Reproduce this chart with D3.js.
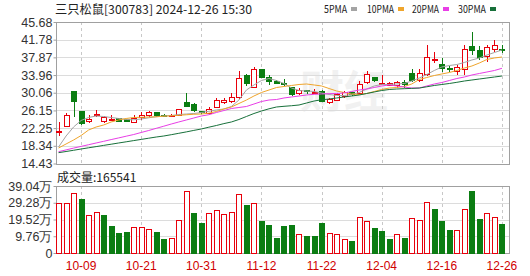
<!DOCTYPE html>
<html>
<head>
<meta charset="utf-8">
<script src="https://cdn.jsdelivr.net/npm/d3@7"></script>
<style>
  body { margin: 0; background: #fff; }
  svg { display: block; }
</style>
</head>
<body>
<svg id="chart" width="530" height="276"></svg>
<script>
// 日K数据 (价格 元, 成交量 万手)
const dates = ["09-27","09-30","10-08","10-09","10-10","10-11","10-14","10-15","10-16","10-17",
  "10-18","10-21","10-22","10-23","10-24","10-25","10-28","10-29","10-30","10-31",
  "11-01","11-04","11-05","11-06","11-07","11-08","11-11","11-12","11-13","11-14",
  "11-15","11-18","11-19","11-20","11-21","11-22","11-25","11-26","11-27","11-28",
  "11-29","12-02","12-03","12-04","12-05","12-06","12-09","12-10","12-11","12-12",
  "12-13","12-16","12-17","12-18","12-19","12-20","12-23","12-24","12-25","12-26"];

const openP = [21.2,22.7,30.3,25.9,23.7,25.1,23.7,24.1,24.3,24.1,
  23.5,24.5,25.0,25.6,25.1,25.0,25.1,27.9,27.5,25.9,
  25.4,26.8,28.0,28.1,28.9,33.9,31.3,35.1,33.5,32.5,
  32.0,31.2,29.9,30.5,30.1,30.3,27.9,28.4,29.3,30.0,
  29.9,32.3,33.5,32.1,31.6,31.6,32.4,34.4,32.7,34.0,
  37.4,36.2,35.5,34.7,35.1,40.2,39.3,38.0,39.7,39.6];
const highP = [23.7,25.5,30.3,26.0,25.1,26.2,25.0,25.1,24.5,24.2,
  25.1,25.7,26.0,25.6,25.4,25.4,26.4,30.0,27.7,26.0,
  27.0,28.8,28.8,29.9,34.9,34.3,35.8,35.4,34.0,32.8,
  33.2,31.4,31.0,30.7,30.9,30.6,29.0,29.9,30.4,30.2,
  32.7,34.9,33.5,34.0,32.5,32.6,32.8,35.2,35.2,40.5,
  39.0,37.8,36.0,36.2,40.6,43.4,40.4,40.5,41.7,40.6];
const lowP = [20.6,22.4,24.6,22.9,23.3,24.6,23.3,24.0,23.6,23.5,
  23.3,24.0,24.8,24.8,24.8,24.8,25.0,26.9,25.9,25.4,
  25.2,26.7,27.6,27.7,28.6,31.6,31.1,33.3,31.8,32.0,
  31.6,29.4,29.6,29.8,29.9,28.0,27.5,28.2,28.8,29.4,
  29.7,32.0,32.5,32.0,31.5,31.2,31.2,32.5,32.5,33.8,
  36.6,34.7,34.6,34.0,34.0,38.5,37.3,36.9,39.1,38.9];
const closeP = [21.6,25.1,28.1,23.2,24.2,25.2,24.5,24.2,23.8,23.6,
  24.4,25.0,25.6,25.1,25.0,25.1,26.4,27.1,26.1,25.6,
  26.3,28.3,28.4,29.1,33.2,32.0,35.2,33.5,32.5,32.0,
  31.9,29.6,30.6,30.3,30.2,28.1,28.6,29.7,30.2,29.6,
  31.9,34.0,32.7,32.2,32.1,32.4,31.8,32.7,34.4,37.9,
  37.5,35.5,35.4,35.6,39.7,39.3,37.9,40.1,40.6,39.3];
const prevClose = 20.2; // 09-26 收盘
const volume = [29.0,29.0,34.8,30.9,22.1,23.7,21.6,15.7,11.1,12.2,
  15.0,15.0,13.8,12.2,7.6,8.6,18.7,35.7,23.1,16.9,
  23.1,24.7,22.6,23.7,34.2,27.4,29.0,18.2,16.3,8.6,
  15.7,16.3,10.5,9.9,9.5,16.9,11.5,10.9,8.0,6.6,
  20.8,18.2,14.0,12.8,7.6,10.5,8.6,20.2,18.7,29.5,
  25.5,18.2,13.4,13.4,25.1,36.1,19.8,23.1,20.8,16.5541];

// 均线
const ma5 = [18.07,20.50,22.49,23.93,24.59,24.92,24.81,24.59,24.37,24.15,
  24.08,24.26,24.52,24.77,24.92,25.03,25.25,25.36,25.47,25.69,
  25.96,26.25,26.47,27.02,28.45,30.66,31.77,32.76,33.20,32.76,
  32.10,31.10,30.55,30.44,30.33,30.00,29.67,29.45,29.45,29.67,
  30.11,30.88,31.55,31.88,31.88,31.99,32.10,32.65,33.31,34.09,
  34.97,35.74,36.07,36.29,36.74,37.29,37.73,38.39,38.94,39.50];
const ma10 = [17.85,18.74,19.62,20.61,21.83,22.49,22.93,23.60,24.04,24.37,
  24.59,24.63,24.70,24.74,24.88,24.96,25.07,25.19,25.30,25.36,
  25.54,25.91,26.47,26.91,27.68,28.45,29.34,30.11,30.66,31.21,
  31.44,31.66,31.88,31.99,31.77,31.55,30.99,30.44,30.11,29.78,
  29.67,29.89,30.33,30.77,31.10,31.21,31.44,31.99,32.98,33.42,
  33.86,34.20,34.53,34.97,35.52,35.96,36.63,37.40,37.73,37.95];
const ma20 = [17.04,17.43,17.83,18.21,18.58,18.96,19.33,19.71,20.08,20.46,
  20.83,21.28,21.72,22.20,22.67,23.15,23.60,24.04,24.48,24.92,
  25.21,25.69,26.13,26.58,26.80,27.02,27.57,28.12,28.45,28.56,
  28.90,29.12,29.34,29.56,29.71,29.78,29.85,29.91,30.00,30.33,
  30.66,30.88,31.21,31.55,31.77,31.55,31.32,31.10,31.10,31.55,
  31.99,32.32,32.76,33.20,33.53,33.98,34.31,34.64,34.97,35.45];
const ma30 = [16.82,17.08,17.35,17.63,17.90,18.16,18.43,18.69,18.96,19.22,
  19.49,19.75,20.02,20.28,20.50,20.79,21.10,21.41,21.74,22.05,
  22.45,22.82,23.24,23.60,24.15,24.81,25.47,26.02,26.51,26.91,
  27.06,27.19,27.35,27.79,28.23,28.50,28.67,28.90,29.12,29.34,
  29.56,29.89,30.22,30.55,30.77,30.88,30.95,31.02,31.10,31.37,
  31.66,31.88,32.10,32.36,32.65,32.87,33.09,33.31,33.53,33.75];

const priceTicks = [14.43,18.34,22.25,26.15,30.06,33.96,37.87,41.78,45.68];
const volTicks = [0,9.76,19.52,29.28,39.04];
const dateTicks = ["10-09","10-21","10-31","11-12","11-22","12-04","12-16","12-26"];
const stockTitle = "三只松鼠[300783] 2024-12-26 15:30";
const maNames = ["5PMA","10PMA","20PMA","30PMA"];

const RED = "#e8000b", GREEN = "#0b7d12";
const maColors = ["#a4a4a4", "#efa52c", "#e83ee6", "#17703a"];

const svg = d3.select("#chart");
const left = 56, right = 509;
const pTop = 22, pBot = 163.5, vTop = 186, vBot = 253;

const x = d3.scaleBand().domain(dates).range([left, left + 7.475 * dates.length]).paddingInner(0.32);
const cx = d => x(d) + x.bandwidth() / 2;
const y = d3.scaleLinear().domain([priceTicks[0], priceTicks[priceTicks.length - 1]]).range([pBot, pTop]);
const yv = d3.scaleLinear().domain([0, volTicks[volTicks.length - 1]]).range([vBot, vTop]);

const bars = dates.map((d, i) => ({
  date: d, o: openP[i], h: highP[i], l: lowP[i], c: closeP[i], v: volume[i],
  up: closeP[i] >= openP[i],
  volUp: closeP[i] >= (i ? closeP[i - 1] : prevClose)
}));

// 水印
svg.append("text").attr("x", 300).attr("y", 108)
  .attr("font-family", "Noto Sans CJK SC").attr("font-size", 44).attr("font-weight", "bold")
  .attr("fill", "#f1f1f1").text("财经");

// 网格
function panelGrid(top, bot, scale, ticks) {
  svg.append("g").selectAll("line").data(ticks).join("line")
    .attr("x1", left).attr("x2", right)
    .attr("y1", d => Math.round(scale(d)) + 0.5).attr("y2", d => Math.round(scale(d)) + 0.5)
    .attr("stroke", "#dcdcdc").attr("shape-rendering", "crispEdges");
  svg.append("g").selectAll("line").data(dateTicks).join("line")
    .attr("x1", d => Math.round(cx(d)) + 0.5).attr("x2", d => Math.round(cx(d)) + 0.5)
    .attr("y1", top).attr("y2", bot)
    .attr("stroke", "#c8c8c8").attr("stroke-dasharray", "3,3").attr("shape-rendering", "crispEdges");
  svg.append("rect").attr("x", left + 0.5).attr("y", top + 0.5)
    .attr("width", right - left).attr("height", bot - top)
    .attr("fill", "none").attr("stroke", "#a0a0a0").attr("shape-rendering", "crispEdges");
}
panelGrid(pTop, pBot, y, priceTicks);
panelGrid(vTop, vBot, yv, volTicks);

// 纵轴
const axisFont = "Liberation Sans, Arial, sans-serif";
svg.append("g").attr("transform", `translate(${left + 0.5},0)`)
  .call(d3.axisLeft(y).tickValues(priceTicks).tickFormat(d3.format(".2f")).tickSize(3).tickSizeOuter(0))
  .call(g => g.select(".domain").remove())
  .call(g => g.selectAll("line").attr("stroke", "#a0a0a0"))
  .call(g => g.selectAll("text").attr("font-family", axisFont).attr("font-size", 12.5).attr("fill", "#333").attr("x", -4));

svg.append("g").attr("transform", `translate(${left + 0.5},0)`)
  .call(d3.axisLeft(yv).tickValues(volTicks).tickFormat(d => d === 0 ? "0" : d3.format(".2f")(d) + "万").tickSize(3).tickSizeOuter(0))
  .call(g => g.select(".domain").remove())
  .call(g => g.selectAll("line").attr("stroke", "#a0a0a0"))
  .call(g => g.selectAll("text").attr("font-family", axisFont).attr("font-size", 12.5).attr("fill", "#333").attr("x", -4));

// 日期
svg.append("g").selectAll("text").data(dateTicks).join("text")
  .attr("x", d => cx(d)).attr("y", 270).attr("text-anchor", "middle")
  .attr("font-family", axisFont).attr("font-size", 12).attr("fill", "#d00000")
  .text(d => d);

// K线
const candles = svg.append("g");
candles.selectAll("line").data(bars).join("line")
  .attr("x1", d => Math.round(cx(d.date)) + 0.5).attr("x2", d => Math.round(cx(d.date)) + 0.5)
  .attr("y1", d => y(d.h)).attr("y2", d => y(d.l))
  .attr("stroke", d => d.up ? RED : GREEN).attr("shape-rendering", "crispEdges");
candles.selectAll("rect").data(bars).join("rect")
  .attr("x", d => Math.round(x(d.date)) + 0.5)
  .attr("y", d => y(Math.max(d.o, d.c)))
  .attr("width", Math.round(x.bandwidth()))
  .attr("height", d => Math.max(1, Math.abs(y(d.o) - y(d.c))))
  .attr("fill", d => d.up ? "#fff" : GREEN)
  .attr("stroke", d => d.up ? RED : GREEN)
  .attr("shape-rendering", "crispEdges");

// 均线
[ma5, ma10, ma20, ma30].forEach((ma, k) => {
  svg.append("path").datum(ma)
    .attr("fill", "none").attr("stroke", maColors[k]).attr("stroke-width", 1)
    .attr("d", d3.line().x((v, i) => cx(dates[i])).y(v => y(v)));
});

// 成交量
svg.append("g").selectAll("rect").data(bars).join("rect")
  .attr("x", d => Math.round(x(d.date)) + 0.5)
  .attr("y", d => yv(d.v))
  .attr("width", Math.round(x.bandwidth()))
  .attr("height", d => vBot - yv(d.v))
  .attr("fill", d => d.volUp ? "#fff" : GREEN)
  .attr("stroke", d => d.volUp ? RED : GREEN)
  .attr("shape-rendering", "crispEdges");

// 标题与图例
const cjkFont = "Noto Sans CJK SC, sans-serif";
svg.append("text").attr("x", 55).attr("y", 14)
  .attr("font-family", cjkFont).attr("font-size", 12).attr("fill", "#222")
  .attr("textLength", 197).attr("lengthAdjust", "spacingAndGlyphs")
  .text(stockTitle);

const legendX = [324, 367, 412, 458];
const legendW = [23, 27, 27, 28];
const legend = svg.append("g");
maNames.forEach((name, k) => {
  legend.append("text").attr("x", legendX[k]).attr("y", 13)
    .attr("font-family", cjkFont).attr("font-size", 11).attr("fill", "#222")
    .attr("textLength", legendW[k]).attr("lengthAdjust", "spacingAndGlyphs")
    .text(name);
  legend.append("rect").attr("x", legendX[k] + legendW[k] + 4).attr("y", 7)
    .attr("width", 6).attr("height", 4).attr("fill", maColors[k]);
});

svg.append("text").attr("x", 57).attr("y", 182)
  .attr("font-family", cjkFont).attr("font-size", 12).attr("fill", "#222")
  .text("成交量:" + Math.round(volume[volume.length - 1] * 10000));
</script>
</body>
</html>
